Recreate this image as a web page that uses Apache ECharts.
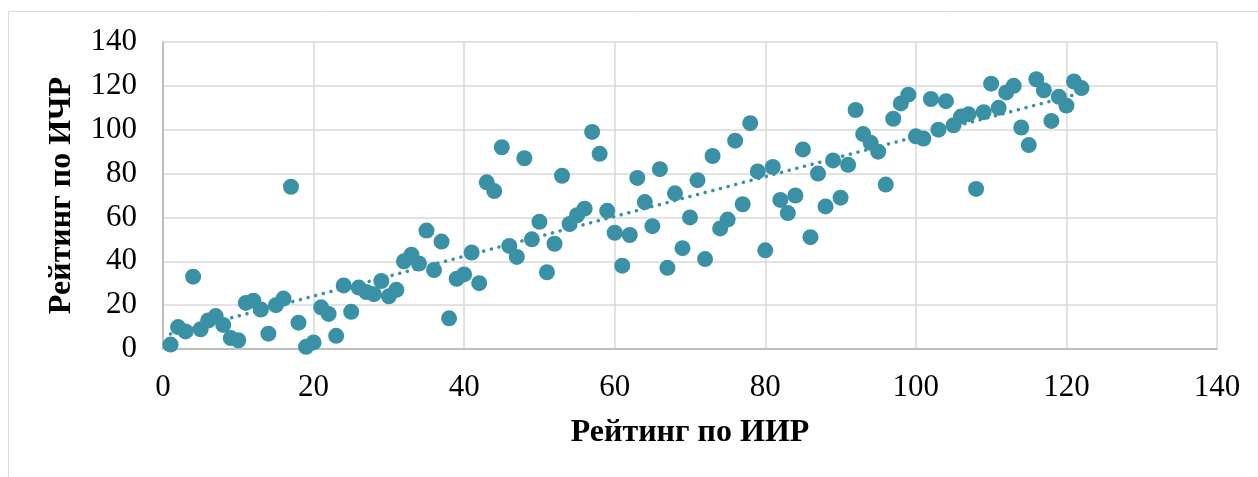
<!DOCTYPE html>
<html>
<head>
<meta charset="utf-8">
<script src="https://cdn.jsdelivr.net/npm/echarts@6/dist/echarts.min.js"></script>
<style>
  html, body { margin: 0; padding: 0; background: #fff; }
  #chart { width: 1258px; height: 477px; }
</style>
</head>
<body>
<div id="chart"></div>
<script>
// ranking by ИИР (x) and ranking by ИЧР (y)
const iirRank = [];
for (let i = 1; i <= 122; i++) iirRank.push(i);

const ichrRank = [
  2, 10, 8, 33, 9, 13, 15, 11, 5, 4,
  21, 22, 18, 7, 20, 23, 74, 12, 1, 3,
  19, 16, 6, 29, 17, 28, 26, 25, 31, 24,
  27, 40, 43, 39, 54, 36, 49, 14, 32, 34,
  44, 30, 76, 72, 92, 47, 42, 87, 50, 58,
  35, 48, 79, 57, 61, 64, 99, 89, 63, 53,
  38, 52, 78, 67, 56, 82, 37, 71, 46, 60,
  77, 41, 88, 55, 59, 95, 66, 103, 81, 45,
  83, 68, 62, 70, 91, 51, 80, 65, 86, 69,
  84, 109, 98, 94, 90, 75, 105, 112, 116, 97,
  96, 114, 100, 113, 102, 106, 107, 73, 108, 121,
  110, 117, 120, 101, 93, 123, 118, 104, 115, 111,
  122, 119
];

const xTitle = 'Рейтинг по ИИР';
const yTitle = 'Рейтинг по ИЧР';

const points = iirRank.map((x, i) => [x, ichrRank[i]]);

// linear trend (least squares), like the Excel trendline
const n = points.length;
let sx = 0, sy = 0, sxy = 0, sxx = 0;
points.forEach(([x, y]) => { sx += x; sy += y; sxy += x * y; sxx += x * x; });
const slope = (n * sxy - sx * sy) / (n * sxx - sx * sx);
const intercept = (sy - slope * sx) / n;
const xMin = Math.min(...iirRank), xMax = Math.max(...iirRank);
const trend = [[xMin, intercept + slope * xMin], [xMax, intercept + slope * xMax]];

const chart = echarts.init(document.getElementById('chart'));
const font = "'Liberation Serif', 'Times New Roman', serif";
const teal = '#3a91a6';

const axisCommon = {
  type: 'value',
  min: 0,
  max: 140,
  interval: 20,
  nameLocation: 'middle',
  nameTextStyle: { fontFamily: font, fontSize: 32, fontWeight: 'bold', color: '#000' },
  axisTick: { show: false },
  axisLabel: { fontFamily: font, fontSize: 31, color: '#000' },
  splitLine: { lineStyle: { color: '#d9d9d9', width: 1.5 } }
};

chart.setOption({
  animation: false,
  graphic: [{
    type: 'rect',
    shape: { x: 8.5, y: 11.5, width: 1400, height: 600 },
    style: { fill: 'none', stroke: '#d9d9d9', lineWidth: 1 },
    silent: true,
    z: -10
  }],
  grid: { left: 163, right: 41, top: 42, bottom: 128 },
  xAxis: Object.assign({}, axisCommon, {
    name: xTitle,
    nameGap: 68,
    axisLine: { lineStyle: { color: '#bfbfbf', width: 2 } },
    axisLabel: Object.assign({}, axisCommon.axisLabel, { margin: 23 })
  }),
  yAxis: Object.assign({}, axisCommon, {
    name: yTitle,
    nameGap: 85,
    axisLine: { show: true, lineStyle: { color: '#bfbfbf', width: 2 } },
    axisLabel: Object.assign({}, axisCommon.axisLabel, { margin: 26 })
  }),
  series: [
    {
      type: 'scatter',
      data: points,
      symbolSize: 16,
      itemStyle: { color: teal, opacity: 1 },
      z: 2
    },
    {
      type: 'line',
      data: trend,
      showSymbol: false,
      symbol: 'none',
      lineStyle: { color: teal, width: 3.5, type: [0.1, 7.8], cap: 'round' },
      z: 3
    }
  ]
});
</script>
</body>
</html>
